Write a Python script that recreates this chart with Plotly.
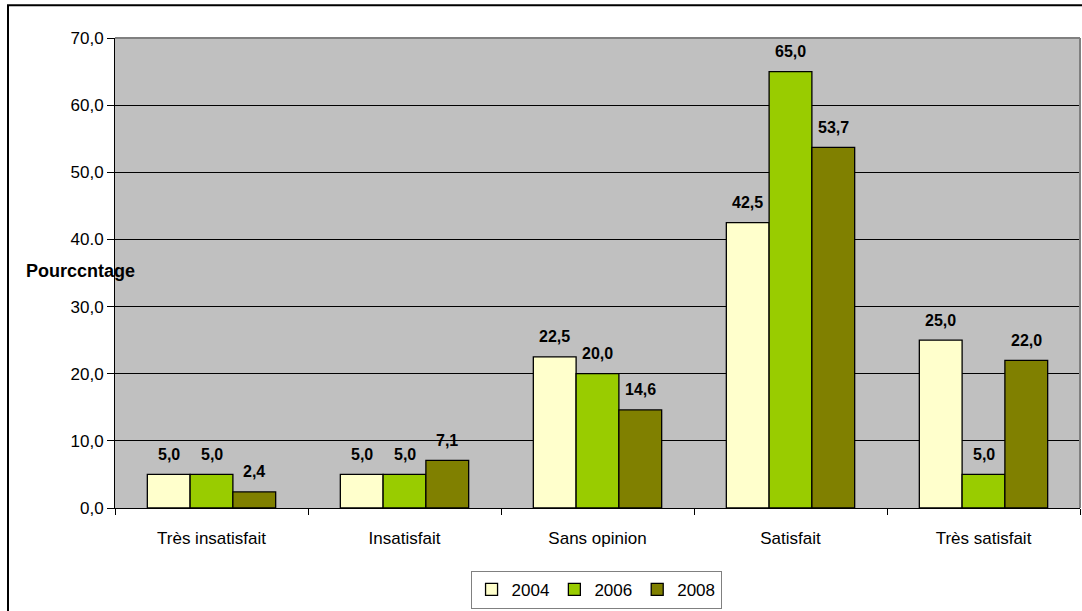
import plotly.graph_objects as go

categories = ["Très insatisfait", "Insatisfait", "Sans opinion", "Satisfait", "Très satisfait"]
years = ["2004", "2006", "2008"]
v2004 = [5.0, 5.0, 22.5, 42.5, 25.0]
v2006 = [5.0, 5.0, 20.0, 65.0, 5.0]
v2008 = [2.4, 7.1, 14.6, 53.7, 22.0]
series = [v2004, v2006, v2008]
colors = ["#FFFFCC", "#99CC00", "#808000"]
ytickvals = [0, 10, 20, 30, 40, 50, 60, 70]
yticktext = ["0,0", "10,0", "20,0", "30,0", "40.0", "50,0", "60,0", "70,0"]

FONT = "Liberation Sans, Arial, sans-serif"
bargap = 0.335

fig = go.Figure()
for name, vals, col in zip(years, series, colors):
    fig.add_trace(go.Bar(
        x=categories, y=vals, name=name,
        marker=dict(color=col, line=dict(color="black", width=1.3)),
    ))

# data labels
w = (1 - bargap) / len(series)
annotations = []
for j, vals in enumerate(series):
    off = (j - (len(series) - 1) / 2) * w
    for i, v in enumerate(vals):
        annotations.append(dict(
            x=i + off, y=v, xref="x", yref="y",
            text=f"{v:.1f}".replace(".", ","), showarrow=False,
            yanchor="middle", yshift=20,
            font=dict(family=FONT, size=16, color="black", weight="bold"),
        ))

annotations.append(dict(
    x=(24 - 115) / 965, y=(510 - 272) / 472, xref="paper", yref="paper",
    xanchor="left", yanchor="middle", text="<b>Pourccntage</b>", showarrow=False,
    font=dict(family=FONT, size=18, color="black"),
))

fig.update_layout(
    width=1082, height=611,
    margin=dict(l=115, r=2, t=38, b=101),
    paper_bgcolor="white", plot_bgcolor="#C0C0C0",
    barmode="group", bargap=bargap, bargroupgap=0,
    font=dict(family=FONT, size=16, color="black"),
    annotations=annotations,
    showlegend=True,
    legend=dict(
        orientation="h", x=0.4985, xanchor="center", y=(510 - 573) / 472, yanchor="top",
        bordercolor="#808080", borderwidth=1, bgcolor="white",
        font=dict(family=FONT, size=17, color="black"),
        itemwidth=30, tracegroupgap=0,
    ),
    shapes=[
        # outer frame
        dict(type="rect", xref="paper", yref="paper",
             x0=(8 - 115) / 965, x1=1.05, y0=-0.3, y1=(510 - 5) / 472,
             line=dict(color="black", width=2), layer="below"),
        # plot area top/right border
        dict(type="line", xref="paper", yref="paper", x0=0, x1=1, y0=1, y1=1,
             line=dict(color="#808080", width=2), layer="above"),
        dict(type="line", xref="paper", yref="paper", x0=1, x1=1, y0=0, y1=1,
             line=dict(color="#808080", width=2), layer="above"),
    ],
)

fig.update_yaxes(
    range=[0, 70], tickvals=ytickvals, ticktext=yticktext,
    showgrid=True, gridcolor="black", gridwidth=1,
    showline=True, linecolor="black", linewidth=1,
    ticks="outside", ticklen=7, tickcolor="black",
    tickfont=dict(family=FONT, size=17, color="black"),
    zeroline=False,
)
fig.update_xaxes(
    type="category",
    showline=True, linecolor="black", linewidth=1,
    ticks="outside", ticklen=6, tickcolor="black", tickson="boundaries",
    tickfont=dict(family=FONT, size=17, color="black"),
    ticklabelstandoff=15,
)

fig.write_html("out.html")
